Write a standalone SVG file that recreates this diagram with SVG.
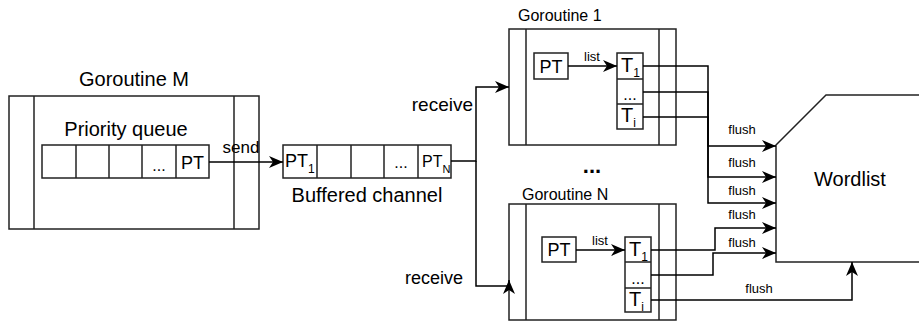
<svg xmlns="http://www.w3.org/2000/svg" width="919" height="325" viewBox="0 0 919 325">
<style>
text{font-family:"Liberation Sans",Arial,sans-serif;fill:#000}
.box{fill:#fff;stroke:#222;stroke-width:1.5}
.ln{fill:none;stroke:#222;stroke-width:1.5}
.con{fill:none;stroke:#000;stroke-width:1.5}
.big{font-size:20px}
.pt{font-size:18px}
.mid{font-size:16px}
.sm{font-size:13px}
.c{text-anchor:middle}
</style>
<defs>
<marker id="arr" markerUnits="userSpaceOnUse" markerWidth="15" markerHeight="13" refX="14" refY="6" orient="auto" viewBox="0 0 15 12">
<path d="M0,0 L14,6 L0,12 L4,6 Z" fill="#000"/>
</marker>
</defs>
<rect width="919" height="325" fill="#fff"/>

<g id="goroutine-m">
<rect class="box" x="9" y="96" width="250" height="133"/>
<line class="ln" x1="34" y1="96" x2="34" y2="229"/>
<line class="ln" x1="234" y1="96" x2="234" y2="229"/>
<text class="big c" x="134" y="86">Goroutine M</text>
</g>

<g id="priority-queue">
<text class="big c" x="126" y="136">Priority queue</text>
<rect class="box" x="42" y="145" width="167" height="33"/>
<line class="ln" x1="76" y1="145" x2="76" y2="178"/>
<line class="ln" x1="109" y1="145" x2="109" y2="178"/>
<line class="ln" x1="142" y1="145" x2="142" y2="178"/>
<line class="ln" x1="176" y1="145" x2="176" y2="178"/>
<text class="mid c" x="159" y="171">...</text>
<text class="pt c" x="192.5" y="169">PT</text>
</g>

<g id="buffered-channel">
<rect class="box" x="283" y="145" width="168" height="33"/>
<line class="ln" x1="317" y1="145" x2="317" y2="178"/>
<line class="ln" x1="351" y1="145" x2="351" y2="178"/>
<line class="ln" x1="384" y1="145" x2="384" y2="178"/>
<line class="ln" x1="418" y1="145" x2="418" y2="178"/>
<text class="pt" x="285" y="167">PT<tspan font-size="12" dy="6">1</tspan></text>
<text class="mid c" x="401" y="168">...</text>
<text class="mid" x="422" y="167">PT<tspan font-size="11" dy="6">N</tspan></text>
<text class="big c" x="367" y="202">Buffered channel</text>
</g>

<g id="goroutine-1">
<rect class="box" x="509" y="29" width="167" height="116"/>
<line class="ln" x1="526" y1="29" x2="526" y2="145"/>
<line class="ln" x1="659" y1="29" x2="659" y2="145"/>
<text class="mid" x="518" y="21">Goroutine 1</text>
<rect class="box" x="534" y="53" width="34" height="26"/>
<text class="pt c" x="551" y="73">PT</text>
<rect class="box" x="617" y="53" width="26" height="76"/>
<line class="ln" x1="617" y1="79" x2="643" y2="79"/>
<line class="ln" x1="617" y1="104" x2="643" y2="104"/>
<text class="big" x="621" y="72">T<tspan font-size="12" dy="5">1</tspan></text>
<text class="mid c" x="630" y="100">...</text>
<text class="big" x="621" y="122">T<tspan font-size="12" dy="5">i</tspan></text>
</g>

<g id="goroutine-n">
<rect class="box" x="509" y="204" width="167" height="116"/>
<line class="ln" x1="526" y1="204" x2="526" y2="320"/>
<line class="ln" x1="659" y1="204" x2="659" y2="320"/>
<text class="mid" x="522" y="200">Goroutine N</text>
<rect class="box" x="542" y="237" width="34" height="25"/>
<text class="pt c" x="559" y="256">PT</text>
<rect class="box" x="625" y="237" width="26" height="75"/>
<line class="ln" x1="625" y1="262" x2="651" y2="262"/>
<line class="ln" x1="625" y1="288" x2="651" y2="288"/>
<text class="big" x="629" y="256">T<tspan font-size="12" dy="5">1</tspan></text>
<text class="mid c" x="638" y="284">...</text>
<text class="big" x="629" y="306">T<tspan font-size="12" dy="5">i</tspan></text>
</g>

<g id="ellipsis">
<text class="c" x="592" y="173" font-size="22" font-weight="bold">...</text>
</g>

<g id="wordlist">
<path class="box" d="M776,145 L826,95 L930,95 L930,262 L776,262 Z"/>
<text class="big c" x="850" y="186">Wordlist</text>
</g>

<g id="connectors">
<path class="con" d="M209,162 L283,162" marker-end="url(#arr)"/>
<text class="c" font-size="17" x="241" y="153">send</text>
<path class="con" d="M451,161 L476,161 L476,87 L509,87" marker-end="url(#arr)"/>
<path class="con" d="M476,161 L476,286 L509,286 L509,280" marker-end="url(#arr)"/>
<text font-size="19" x="473" y="111" text-anchor="end">receive</text>
<text font-size="18" x="463" y="284" text-anchor="end">receive</text>

<path class="con" d="M568,66 L617,66" marker-end="url(#arr)"/>
<text class="sm c" x="592" y="61">list</text>
<path class="con" d="M576,250 L625,250" marker-end="url(#arr)"/>
<text class="sm c" x="600" y="245">list</text>

<path class="con" d="M643,66 L708,66 L708,146 L776,146" marker-end="url(#arr)"/>
<path class="con" d="M643,92 L708,92 L708,177 L776,177" marker-end="url(#arr)"/>
<path class="con" d="M643,117 L708,117 L708,203 L776,203" marker-end="url(#arr)"/>
<path class="con" d="M651,250 L715,250 L715,228 L776,228" marker-end="url(#arr)"/>
<path class="con" d="M651,275 L713,275 L713,253 L776,253" marker-end="url(#arr)"/>
<path class="con" d="M651,300 L852,300 L852,262" marker-end="url(#arr)"/>
<text class="sm c" x="742" y="134">flush</text>
<text class="sm c" x="742" y="167">flush</text>
<text class="sm c" x="742" y="195">flush</text>
<text class="sm c" x="742" y="219">flush</text>
<text class="sm c" x="742" y="247">flush</text>
<text class="sm c" x="759" y="293">flush</text>
</g>
</svg>
